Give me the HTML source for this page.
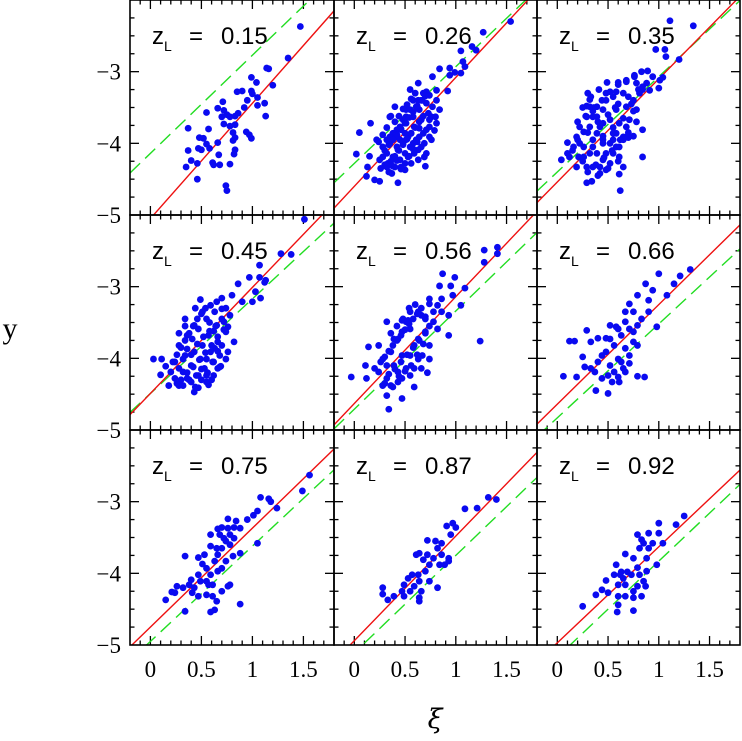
<!DOCTYPE html>
<html><head><meta charset="utf-8"><title>Nine-panel scatter: y vs ξ by lens redshift</title>
<style>html,body{margin:0;padding:0;background:#fff}svg{display:block}</style></head>
<body>
<svg id="chart" width="742" height="741" viewBox="0 0 742 741" xmlns="http://www.w3.org/2000/svg">
<text x="10" y="338" font-family="Liberation Serif, serif" font-size="30" text-anchor="middle">y</text>
<text x="435" y="728" font-family="DejaVu Serif, Liberation Serif, serif" font-style="italic" font-size="27" text-anchor="middle">ξ</text>
</svg>
<script>
const zLabels = ["0.15","0.26","0.35","0.45","0.56","0.66","0.75","0.87","0.92"];
const redSlope = [1.61,1.52,1.44,1.48,1.49,1.39,1.38,1.46,1.34];
const redIntercept = [-5.05,-4.60,-4.54,-4.49,-4.63,-4.64,-4.75,-4.94,-4.97];
const greenSlope = [1.37,1.35,1.33,1.32,1.37,1.31,1.33,1.36,1.34];
const greenIntercept = [-4.14,-4.28,-4.40,-4.49,-4.71,-4.83,-4.95,-5.11,-5.17];
const xTickLabels = ["0","0.5","1","1.5"];
const xTickValues = [0,0.5,1,1.5];
const yTickLabels = ["−3","−4","−5"];
const yTickValues = [-3,-4,-5];
const xs0 = [1.47,1.35,1.14,1.16,1.20,0.99,1.04,0.85,0.90,0.99,1.00,0.95,1.05,0.92,1.12,1.05,0.71,0.66,0.55,0.72,0.70,0.75,0.78,0.83,0.86,1.13,0.78,0.83,0.72,0.37,0.57,0.94,0.97,0.99,0.81,0.83,0.81,0.48,0.52,0.47,0.50,0.55,0.58,0.66,0.83,0.82,0.67,0.37,0.40,0.46,0.35,0.61,0.62,0.68,0.78,0.46,0.74,0.75];
const ys0 = [-2.37,-2.81,-2.95,-2.96,-3.19,-3.08,-3.15,-3.28,-3.27,-3.27,-3.31,-3.40,-3.36,-3.50,-3.44,-3.47,-3.42,-3.51,-3.57,-3.54,-3.63,-3.60,-3.63,-3.62,-3.58,-3.62,-3.76,-3.74,-3.73,-3.79,-3.80,-3.84,-3.88,-3.93,-3.85,-3.92,-3.96,-3.92,-3.93,-4.07,-4.09,-4.01,-4.07,-3.99,-4.09,-4.15,-4.16,-4.10,-4.24,-4.28,-4.33,-4.27,-4.30,-4.30,-4.29,-4.50,-4.59,-4.66];
const xs1 = [1.54,1.27,1.16,1.20,1.05,1.07,1.09,1.05,0.94,0.84,0.94,0.99,0.77,0.63,0.55,0.71,0.81,0.92,0.74,0.67,0.40,0.51,0.76,0.80,0.35,0.64,0.79,0.16,0.05,0.74,0.22,0.02,0.15,0.71,0.63,0.70,0.13,0.12,0.20,0.25,0.43,0.50,0.37,0.32,
0.28,0.32,0.35,0.38,0.42,0.43,0.45,0.46,0.48,0.50,0.51,0.53,0.55,0.56,0.58,0.59,0.61,0.63,0.64,0.66,0.68,0.69,0.71,0.73,0.74,0.76,0.58,0.61,0.55,0.51,0.48,0.45,0.42,0.38,0.35,0.32,0.28,0.25,0.33,0.40,0.46,0.53,0.59,0.66,0.69,0.56,0.50,0.63,0.68,0.81,0.84,0.77,0.42,0.45,0.51,0.58,0.64,0.71,0.74,0.81];
const ys1 = [-2.30,-2.45,-2.65,-2.70,-2.71,-2.86,-2.93,-3.02,-2.95,-2.96,-3.05,-3.01,-3.07,-3.16,-3.25,-3.28,-3.26,-3.27,-3.33,-3.40,-3.49,-3.53,-3.63,-3.63,-3.63,-3.79,-3.82,-3.72,-3.85,-3.91,-3.95,-4.15,-4.18,-4.14,-4.23,-4.32,-4.33,-4.46,-4.51,-4.53,-4.55,-4.37,-4.42,-4.33,
-4.05,-4.14,-4.00,-4.19,-3.91,-4.09,-4.23,-3.81,-4.00,-4.14,-3.72,-3.91,-4.05,-4.28,-3.63,-3.77,-3.95,-4.09,-3.53,-3.67,-3.86,-4.00,-3.44,-3.58,-3.77,-3.95,-3.40,-3.49,-3.53,-3.63,-3.67,-3.77,-3.81,-3.86,-3.91,-3.95,-4.19,-4.23,-4.28,-4.33,-4.33,-4.19,-4.14,-4.05,-4.19,-3.86,-3.86,-3.40,-3.30,-3.40,-3.53,-3.49,-4.05,-3.95,-3.95,-4.00,-3.91,-3.81,-3.67,-3.72];
const xs1b = [0.30,0.34,0.38,0.42,0.46,0.50,0.54,0.58,0.62,0.66,0.70,0.36,0.40,0.44,0.48,0.52,0.56,0.60,0.64,0.68,0.26,0.30,0.34,0.38,0.42,0.46,0.50,0.54,0.58,0.62,0.44,0.48,0.52,0.56,0.60,0.40,0.36,0.32,0.28,0.24];
const ys1b = [-4.10,-4.02,-3.95,-3.88,-3.80,-3.72,-3.64,-3.56,-3.48,-3.40,-3.34,-4.25,-4.18,-4.10,-4.02,-3.94,-3.86,-3.78,-3.70,-3.62,-4.35,-4.30,-4.40,-4.32,-4.24,-4.36,-4.28,-4.18,-4.08,-3.98,-3.62,-3.52,-3.46,-3.38,-3.30,-3.70,-3.62,-3.78,-3.88,-3.98];
const xs2 = [1.11,1.34,0.97,1.06,1.07,1.20,1.01,1.04,1.00,0.83,0.89,0.76,0.78,0.68,0.60,0.48,0.58,0.32,0.29,0.84,0.75,0.68,0.84,0.62,0.65,0.61,0.29,0.34,0.04,0.10,0.10,0.19,0.26,0.21,
0.12,0.16,0.19,0.22,0.26,0.29,0.32,0.35,0.39,0.42,0.29,0.35,0.39,0.42,0.45,0.48,0.52,0.45,0.48,0.52,0.55,0.58,0.61,0.55,0.58,0.61,0.65,0.65,0.68,0.71,0.75,0.78,0.81,0.84,0.88,0.91,0.94,0.26,0.32,0.39,0.45,0.52,0.58,0.22,0.35,0.42,0.48,0.55,0.61,0.68,0.45,0.32,0.39];
const ys2 = [-2.29,-2.36,-2.69,-2.69,-2.79,-2.83,-3.12,-3.08,-3.23,-3.00,-2.99,-3.07,-3.16,-3.14,-3.15,-3.30,-3.28,-3.39,-3.48,-3.81,-3.90,-3.91,-4.19,-4.66,-4.33,-4.43,-4.55,-4.53,-4.23,-4.14,-3.99,-3.91,-3.84,-4.19,
-4.19,-4.05,-4.33,-4.00,-4.19,-4.33,-3.77,-3.95,-4.14,-4.33,-3.63,-3.63,-3.49,-3.77,-3.95,-4.14,-4.28,-3.53,-3.40,-3.67,-3.86,-4.05,-4.19,-3.35,-3.53,-3.72,-3.91,-3.30,-3.49,-3.67,-3.40,-3.53,-3.30,-3.21,-3.16,-3.26,-3.07,-4.05,-4.14,-3.86,-4.23,-4.00,-3.86,-3.77,-4.33,-4.42,-4.37,-4.14,-4.05,-3.77,-3.72,-3.49,-3.63];
const xs2b = [0.15,0.20,0.25,0.30,0.35,0.40,0.45,0.50,0.55,0.60,0.65,0.70,0.75,0.80,0.20,0.28,0.36,0.44,0.52,0.60,0.68,0.76,0.84,0.30,0.38,0.46,0.54,0.62,0.70,0.78,0.25,0.33,0.41,0.49,0.57,0.65,0.73,0.40,0.50,0.60,0.45,0.55,0.35,0.30,0.70];
const ys2b = [-4.10,-3.95,-4.25,-3.85,-4.05,-3.70,-3.90,-3.60,-3.78,-3.45,-3.65,-3.35,-3.55,-3.25,-3.70,-3.62,-3.50,-3.40,-3.28,-3.18,-3.12,-3.05,-3.25,-4.40,-4.30,-4.20,-4.10,-3.95,-3.85,-3.70,-3.50,-3.35,-3.25,-3.15,-3.50,-3.95,-3.45,-4.45,-4.35,-4.25,-4.00,-3.95,-3.55,-3.30,-3.92];
const xs3 = [1.51,1.28,1.38,1.07,0.97,1.07,1.13,1.12,0.86,1.03,1.08,1.00,0.80,0.70,0.49,0.90,0.34,0.76,0.82,0.69,0.03,0.11,0.15,0.10,0.18,0.28,0.43,0.47,0.57,0.62,0.55,
0.20,0.24,0.28,0.32,0.36,0.36,0.40,0.41,0.43,0.45,0.47,0.49,0.51,0.53,0.55,0.57,0.59,0.61,0.63,0.65,0.66,0.68,0.70,0.72,0.74,0.78,0.55,0.40,0.32,0.24,0.28,0.36,0.43,0.51,0.59,0.65,0.47,0.55,0.63,0.70,0.76,0.66,0.74,0.34];
const ys3 = [-2.06,-2.54,-2.55,-2.70,-2.87,-2.87,-2.91,-2.94,-2.96,-3.07,-3.16,-3.21,-3.12,-3.16,-3.18,-3.21,-3.45,-3.56,-3.77,-4.11,-4.01,-4.01,-4.11,-4.23,-4.38,-4.38,-4.47,-4.41,-4.37,-4.24,-4.24,
-4.19,-4.28,-4.14,-4.01,-4.28,-3.87,-4.10,-3.73,-3.91,-4.24,-3.59,-4.01,-3.82,-4.14,-3.45,-3.68,-3.91,-4.05,-3.35,-3.54,-3.77,-3.96,-3.31,-3.49,-3.63,-3.40,-4.33,-4.33,-4.19,-4.05,-3.82,-3.68,-3.54,-3.35,-3.26,-3.21,-4.24,-4.01,-3.86,-3.82,-3.91,-4.14,-4.01,-3.96];
const xs3b = [0.22,0.26,0.30,0.34,0.38,0.42,0.46,0.50,0.54,0.58,0.62,0.66,0.70,0.74,0.30,0.36,0.42,0.48,0.54,0.60,0.66,0.72,0.26,0.32,0.38,0.44,0.50,0.56,0.62,0.68,0.40,0.46,0.52,0.58,0.64,0.34,0.28,0.50,0.60,0.44];
const ys3b = [-4.05,-3.95,-3.85,-3.75,-3.65,-3.55,-3.45,-3.38,-3.30,-3.50,-3.62,-3.70,-3.45,-3.30,-4.30,-4.20,-4.12,-4.02,-3.92,-3.82,-3.90,-3.60,-4.35,-4.38,-4.30,-4.40,-4.15,-4.20,-4.05,-4.12,-3.95,-3.80,-3.70,-3.62,-3.55,-3.55,-3.65,-4.30,-4.30,-3.30];
const xs4 = [1.28,1.41,1.41,1.28,0.87,0.99,0.84,0.95,1.09,0.97,1.05,0.74,0.93,0.32,0.47,0.53,0.93,1.24,0.14,0.24,-0.03,0.11,0.12,0.32,0.34,0.47,0.59,0.72,0.67,0.55,
0.24,0.28,0.32,0.36,0.39,0.43,0.43,0.47,0.51,0.55,0.59,0.63,0.66,0.70,0.74,0.78,0.82,0.86,0.28,0.36,0.47,0.55,0.63,0.70,0.39,0.47,0.51,0.32,0.59,0.66,0.74,0.82,0.63,0.55,0.43,0.20,0.74,0.86];
const ys4 = [-2.49,-2.45,-2.54,-2.66,-2.82,-2.87,-2.99,-2.99,-3.02,-3.12,-3.26,-3.24,-3.40,-3.49,-3.47,-3.47,-3.68,-3.76,-3.84,-3.82,-4.26,-4.10,-4.28,-4.52,-4.71,-4.56,-4.40,-4.20,-3.96,-4.24,
-4.19,-4.01,-4.28,-3.91,-4.10,-4.33,-3.73,-3.96,-4.14,-3.59,-3.82,-4.01,-3.40,-3.63,-3.82,-3.49,-3.26,-3.35,-4.38,-4.38,-4.28,-3.96,-3.73,-3.45,-3.73,-3.63,-3.49,-4.10,-4.14,-4.14,-4.01,-3.59,-3.35,-3.35,-4.19,-4.14,-3.17,-3.17];
const xs4b = [0.26,0.30,0.34,0.38,0.42,0.46,0.50,0.54,0.58,0.62,0.66,0.70,0.74,0.78,0.34,0.40,0.46,0.52,0.58,0.64,0.70,0.30,0.38,0.44,0.50,0.56,0.62,0.68,0.54,0.60,0.48,0.42,0.36];
const ys4b = [-4.05,-3.98,-3.90,-3.82,-3.75,-3.68,-3.60,-3.52,-3.45,-3.38,-3.30,-3.42,-3.55,-3.35,-4.22,-4.15,-4.05,-3.95,-3.85,-3.75,-3.65,-4.35,-4.40,-4.25,-4.18,-4.10,-3.95,-3.80,-3.30,-3.25,-3.45,-3.55,-3.65];
const xs5 = [1.31,1.21,1.15,1.00,1.08,0.87,0.94,0.79,0.90,0.90,0.71,0.75,0.67,0.83,0.98,0.29,0.12,0.17,0.33,0.40,0.48,0.52,0.58,0.79,0.86,0.06,0.19,0.25,0.27,0.38,0.50,0.54,0.60,0.65,0.71,
0.37,0.40,0.44,0.48,0.52,0.56,0.60,0.63,0.67,0.71,0.75,0.79,0.56,0.63,0.67,0.44,0.52,0.60,0.67,0.75,0.71,0.79,0.50,0.61,0.33];
const ys5 = [-2.76,-2.85,-2.96,-2.82,-3.12,-2.96,-3.05,-3.12,-3.19,-3.35,-3.24,-3.35,-3.35,-3.45,-3.56,-3.61,-3.76,-3.76,-3.77,-3.72,-3.72,-3.54,-3.56,-4.25,-4.26,-4.25,-4.26,-3.98,-4.12,-4.45,-4.49,-4.33,-4.26,-4.14,-4.07,
-4.19,-4.05,-4.28,-3.91,-4.10,-3.82,-4.01,-3.68,-3.86,-3.59,-3.77,-3.54,-4.19,-4.05,-4.19,-3.96,-3.73,-3.59,-3.49,-3.63,-3.96,-3.82,-4.24,-4.33,-4.14];
const xs6 = [1.56,1.49,1.08,1.16,1.18,1.24,1.05,1.01,0.95,0.76,0.84,0.70,0.82,0.66,0.88,0.78,0.59,0.72,0.59,1.05,0.34,0.47,0.51,0.81,0.88,0.15,0.21,0.26,0.32,0.40,0.38,0.49,0.55,0.61,0.65,0.70,0.76,0.78,0.88,0.59,0.63,0.34,0.47,0.41,0.24,
0.55,0.59,0.63,0.66,0.70,0.74,0.78,0.66,0.55,0.47,0.61,0.70,0.74,0.65,0.68,0.76,0.82,0.53,0.57,0.43];
const ys6 = [-2.63,-2.85,-2.94,-2.96,-3.00,-3.09,-3.13,-3.19,-3.25,-3.24,-3.27,-3.36,-3.36,-3.38,-3.37,-3.46,-3.46,-3.51,-3.62,-3.58,-3.76,-3.78,-3.87,-3.76,-3.72,-4.37,-4.26,-4.18,-4.20,-4.09,-4.16,-4.11,-4.30,-4.32,-4.39,-4.25,-4.18,-4.16,-4.43,-4.54,-4.51,-4.53,-4.32,-4.27,-4.27,
-3.93,-4.02,-3.83,-3.74,-3.65,-3.55,-3.60,-3.97,-4.11,-4.02,-4.16,-3.93,-3.83,-3.65,-3.46,-3.37,-3.51,-3.74,-4.16,-4.20];
const xs7 = [1.32,1.40,1.09,1.21,0.97,0.91,1.00,0.95,0.72,0.80,0.86,0.82,0.64,0.72,0.86,0.78,0.68,0.93,0.93,0.74,0.84,0.89,0.70,0.63,0.57,0.53,0.64,0.74,0.49,0.59,0.66,0.82,0.55,0.47,0.49,0.64,0.64,0.28,0.28,0.33,0.39,0.61];
const ys7 = [-2.94,-2.97,-3.10,-3.09,-3.30,-3.34,-3.36,-3.46,-3.54,-3.55,-3.58,-3.65,-3.72,-3.74,-3.74,-3.79,-3.81,-3.79,-3.83,-3.88,-3.88,-3.88,-3.97,-4.02,-4.02,-4.07,-4.11,-4.11,-4.16,-4.18,-4.25,-4.20,-4.25,-4.25,-4.32,-4.34,-4.39,-4.20,-4.29,-4.37,-4.32,-3.74];
const xs8 = [1.25,1.17,1.00,0.79,0.90,1.00,0.83,0.85,0.94,1.04,0.81,0.90,0.88,0.67,0.75,0.58,0.79,0.98,0.63,0.69,0.73,0.81,0.65,0.88,0.48,0.60,0.67,0.85,0.79,0.87,0.50,0.60,0.67,0.75,0.75,0.38,0.44,0.25,0.60,0.59,0.75,0.83,0.56,0.62];
const ys8 = [-3.20,-3.32,-3.30,-3.46,-3.44,-3.44,-3.53,-3.58,-3.58,-3.58,-3.65,-3.65,-3.79,-3.73,-3.79,-3.88,-3.92,-3.88,-3.98,-3.98,-4.02,-4.02,-4.07,-3.97,-4.10,-4.16,-4.16,-4.11,-4.18,-4.18,-4.27,-4.32,-4.32,-4.34,-4.25,-4.30,-4.23,-4.46,-4.44,-4.54,-4.52,-4.32,-4.02,-4.02];
const seriesX = [xs0, xs1.concat(xs1b), xs2.concat(xs2b), xs3.concat(xs3b), xs4.concat(xs4b), xs5, xs6, xs7, xs8];
const seriesY = [ys0, ys1.concat(ys1b), ys2.concat(ys2b), ys3.concat(ys3b), ys4.concat(ys4b), ys5, ys6, ys7, ys8];

const NS = "http://www.w3.org/2000/svg";
const svg = document.getElementById("chart");
const panelLeft = [130,334,537], panelRight = [334,537,740];
const rowTop = [0,215,430], rowH = 215;
const xMin = -0.2, xMax = 1.8, yMin = -5, yMax = -2;
function mk(tag, attrs, parent){ const e = document.createElementNS(NS, tag); for (const k in attrs) e.setAttribute(k, attrs[k]); (parent||svg).appendChild(e); return e; }

for (let i = 0; i < 9; i++) {
  const c = i % 3, r = Math.floor(i / 3);
  const L = panelLeft[c], R = panelRight[c], T = rowTop[r], B = T + rowH;
  const sx = v => L + (v - xMin) / (xMax - xMin) * (R - L);
  const sy = v => B - (v - yMin) / (yMax - yMin) * rowH;
  const g = mk("g", {});
  
  
  const cp = mk("clipPath", {id: "cp" + i}, g);
  mk("rect", {x: L, y: T, width: R - L, height: rowH}, cp);
  const tk = mk("g", {stroke: "#000", "stroke-width": 1.3}, g);
  
  
  for (let k = -2; k <= 18; k++) {
    const v = k / 10; if (v <= xMin || v >= xMax) continue;
    const len = (k % 5 === 0) ? 9 : 4.5; const px = sx(v);
    mk("line", {x1: px, y1: B, x2: px, y2: B - len}, tk);
    mk("line", {x1: px, y1: T, x2: px, y2: T + len}, tk);
  }
  for (let k = 0; k <= 12; k++) {
    const v = -5 + k * 0.25; if (v <= yMin || v >= yMax) continue;
    const len = (k % 4 === 0) ? 9 : 4.5; const py = sy(v);
    mk("line", {x1: L, y1: py, x2: L + len, y2: py}, tk);
    mk("line", {x1: R, y1: py, x2: R - len, y2: py}, tk);
  }
  const ln = mk("g", {"clip-path": "url(#cp" + i + ")"}, g);
  const gl = mk("line", {x1: sx(xMin), y1: sy(greenIntercept[i] + greenSlope[i] * xMin), x2: sx(xMax), y2: sy(greenIntercept[i] + greenSlope[i] * xMax), stroke: "#22dd22", "stroke-width": 1.4, "stroke-dasharray": "14 7"}, ln);
  
  
  const rl = mk("line", {x1: sx(xMin), y1: sy(redIntercept[i] + redSlope[i] * xMin), x2: sx(xMax), y2: sy(redIntercept[i] + redSlope[i] * xMax), stroke: "#ee1111", "stroke-width": 1.4}, ln);
  
  
  const pts = mk("g", {fill: "#0a0af0"}, g);
  
  
  const X = seriesX[i], Y = seriesY[i];
  for (let j = 0; j < X.length; j++) {
    const d = mk("circle", {cx: sx(X[j]), cy: sy(Y[j]), r: 3.4}, pts);
    
    
  }
  const fr = mk("rect", {x: L, y: T, width: R - L, height: rowH, fill: "none", stroke: "#000", "stroke-width": 1.6}, g);
  
  
  const t = mk("text", {x: L + 22, y: T + 44, "font-family": "Liberation Sans, sans-serif", "font-size": 24}, g);
  
  
  t.innerHTML = 'z<tspan font-size="14" dy="7">L</tspan><tspan dy="-7" x="' + (L + 59) + '">=</tspan><tspan x="' + (L + 91) + '">' + zLabels[i] + '</tspan>';
  if (c === 0) {
    for (let k = 0; k < yTickValues.length; k++) {
      const yl = mk("text", {x: 121, y: sy(yTickValues[k]) + 8, "text-anchor": "end", "font-family": "Liberation Serif, serif", "font-size": 23}, g);
      
      
      yl.textContent = yTickLabels[k];
    }
  }
  if (r === 2) {
    for (let k = 0; k < xTickValues.length; k++) {
      const xl = mk("text", {x: sx(xTickValues[k]), y: 677, "text-anchor": "middle", "font-family": "Liberation Serif, serif", "font-size": 23}, g);
      
      
      xl.textContent = xTickLabels[k];
    }
  }
}
</script>
</body></html>
